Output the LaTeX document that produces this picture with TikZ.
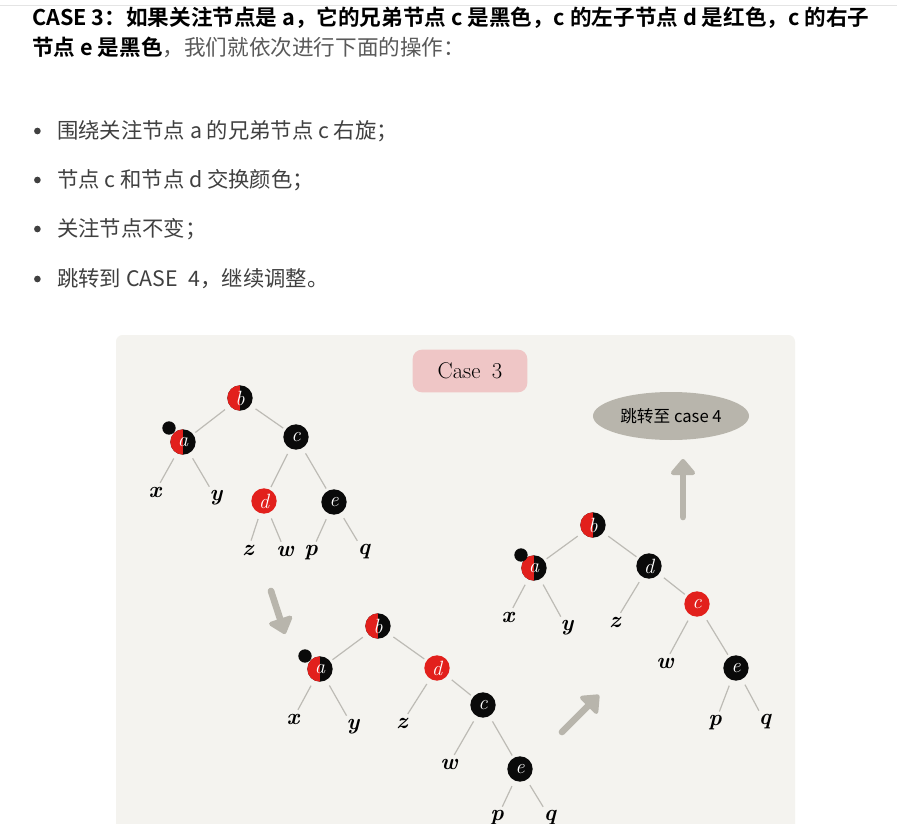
\documentclass[tikz,border=0pt]{standalone}
\usepackage{fontspec}
\newfontfamily\cjk{Noto Sans CJK SC}[BoldFont={Noto Sans CJK SC Bold}]
\usepackage{xcolor}
\usetikzlibrary{positioning,arrows.meta,shapes.geometric}
\definecolor{rbred}{HTML}{E2201C}
\definecolor{rbblack}{HTML}{0A0A0A}
\definecolor{panelbg}{HTML}{F4F3EF}
\definecolor{edgegray}{HTML}{BDBBB5}
\definecolor{arrowgray}{HTML}{B8B5AC}
\definecolor{casepink}{HTML}{EFC6C6}
\definecolor{textgray}{HTML}{404040}
\definecolor{softgray}{HTML}{595959}
\definecolor{rulegray}{HTML}{E4E4E4}

\begin{document}
\begin{tikzpicture}[x=0.75pt, y=-0.75pt]
    \tikzstyle{rbnode}=[circle, inner sep=0pt, minimum size=19pt, text=white,
                        font=\normalfont\itshape\fontsize{15.5}{16}\selectfont]
    \tikzstyle{blacknode}=[rbnode, fill=rbblack]
    \tikzstyle{rednode}=[rbnode, fill=rbred]
    \tikzstyle{halfnode}=[rbnode, fill=rbblack,
                          path picture={\fill[rbred] (path picture bounding box.south west)
                                        rectangle (path picture bounding box.north);}]
    \tikzstyle{focusdot}=[circle, fill=rbblack, inner sep=0pt, minimum size=10pt]
    \tikzstyle{leaf}=[inner sep=1pt, font=\normalfont\bfseries\itshape\fontsize{17}{18}\selectfont]
    \tikzstyle{edge}=[draw=edgegray, line width=0.9pt, shorten <=4.5pt, shorten >=2pt]
    \tikzstyle{bigarrow}=[draw=arrowgray, line width=5pt, line cap=round,
                          -{Triangle[width=21pt, length=13pt, round]}]
    \tikzstyle{headline}=[anchor=base west, inner sep=0pt,
                          font=\cjk\bfseries\fontsize{16.2}{18}\selectfont]
    \tikzstyle{item}=[anchor=west, inner sep=0pt, text=textgray,
                      font=\cjk\fontsize{16}{18}\selectfont]
    \tikzstyle{bullet}=[circle, fill=textgray, inner sep=0pt, minimum size=5pt]

    \useasboundingbox[fill=white] (0,0) rectangle (897,824);
    \draw[rulegray, line width=0.75pt] (0,6) -- (897,6);

    % text above the picture
    \node[headline] (head1) at (32,26)
        {CASE 3：如果关注节点是 a，它的兄弟节点 c 是黑色，c 的左子节点 d 是红色，c 的右子};
    \node[headline] (head2) at (32,56)
        {节点 e 是黑色\textcolor{softgray}{\mdseries，我们就依次进行下面的操作：}};

    \node[item] (item1) at (57,131) {围绕关注节点 a 的兄弟节点 c 右旋；};
    \node[item] (item2) at (57,180) {节点 c 和节点 d 交换颜色；};
    \node[item] (item3) at (57,229) {关注节点不变；};
    \node[item] (item4) at (57,279) {跳转到 CASE\enspace 4，继续调整。};
    \node[bullet, left=12pt of item1] (dot1) {};
    \node[bullet, left=12pt of item2] (dot2) {};
    \node[bullet, left=12pt of item3] (dot3) {};
    \node[bullet, left=12pt of item4] (dot4) {};

    % the picture panel
    \fill[panelbg, rounded corners=5pt] (116,335) rectangle (795,860);

    \node[fill=casepink, rounded corners=7pt, minimum width=86pt, minimum height=32pt,
          font=\normalfont\fontsize{17}{19}\selectfont] (case) at (470,371) {Case\enspace 3};
    \node[ellipse, fill=arrowgray, minimum width=110pt, minimum height=36pt,
          font=\cjk\fontsize{12.5}{14}\selectfont] (jump) at (671,416) {跳转至 case 4};

    % tree before the rotation
    \node[halfnode] (b1) at (240,398) {b};
    \node[halfnode] (a1) at (183,442) {a};
    \node[focusdot] (f1) at (169,428) {};
    \node[blacknode] (c1) at (296,437) {c};
    \node[rednode] (d1) at (264,501) {d};
    \node[blacknode] (e1) at (334,502) {e};
    \node[leaf] (x1) at (155,492) {x};
    \node[leaf] (y1) at (216,498) {y};
    \node[leaf] (z1) at (248,550) {z};
    \node[leaf] (w1) at (285,551) {w};
    \node[leaf] (p1) at (311,553) {p};
    \node[leaf] (q1) at (364,552) {q};

    % tree after the rotation
    \node[halfnode] (b2) at (378,626) {b};
    \node[halfnode] (a2) at (320,669) {a};
    \node[focusdot] (f2) at (305,656) {};
    \node[rednode] (d2) at (437,668) {d};
    \node[blacknode] (c2) at (483,705) {c};
    \node[blacknode] (e2) at (520,769) {e};
    \node[leaf] (x2) at (293,719) {x};
    \node[leaf] (y2) at (353,727) {y};
    \node[leaf] (z2) at (402,723) {z};
    \node[leaf] (w2) at (449,764) {w};
    \node[leaf] (p2) at (497,818) {p};
    \node[leaf] (q2) at (550,818) {q};

    % tree after the colour swap
    \node[halfnode] (b3) at (593,525) {b};
    \node[halfnode] (a3) at (534,568) {a};
    \node[focusdot] (f3) at (521,555) {};
    \node[blacknode] (d3) at (649,566) {d};
    \node[rednode] (c3) at (697,604) {c};
    \node[blacknode] (e3) at (736,668) {e};
    \node[leaf] (x3) at (508,617) {x};
    \node[leaf] (y3) at (567,628) {y};
    \node[leaf] (z3) at (615,622) {z};
    \node[leaf] (w3) at (665,663) {w};
    \node[leaf] (p3) at (715,723) {p};
    \node[leaf] (q3) at (765,722) {q};

    \foreach \u/\v in {b1/a1, b1/c1, a1/x1, a1/y1, c1/d1, c1/e1, d1/z1, d1/w1, e1/p1, e1/q1,
                       b2/a2, b2/d2, a2/x2, a2/y2, d2/z2, d2/c2, c2/w2, c2/e2, e2/p2, e2/q2,
                       b3/a3, b3/d3, a3/x3, a3/y3, d3/z3, d3/c3, c3/w3, c3/e3, e3/p3, e3/q3}
        \draw[edge] (\u) -- (\v);

    % grey arrows between the steps
    \coordinate (downfrom) at (271,591);
    \coordinate (downto) at (285,634);
    \coordinate (diagfrom) at (562,732);
    \coordinate (diagto) at (599,695);
    \coordinate (upfrom) at (683,517);
    \coordinate (upto) at (683,459);
    \draw[bigarrow] (downfrom) -- (downto);
    \draw[bigarrow] (diagfrom) -- (diagto);
    \draw[bigarrow] (upfrom) -- (upto);
\end{tikzpicture}
\end{document}
